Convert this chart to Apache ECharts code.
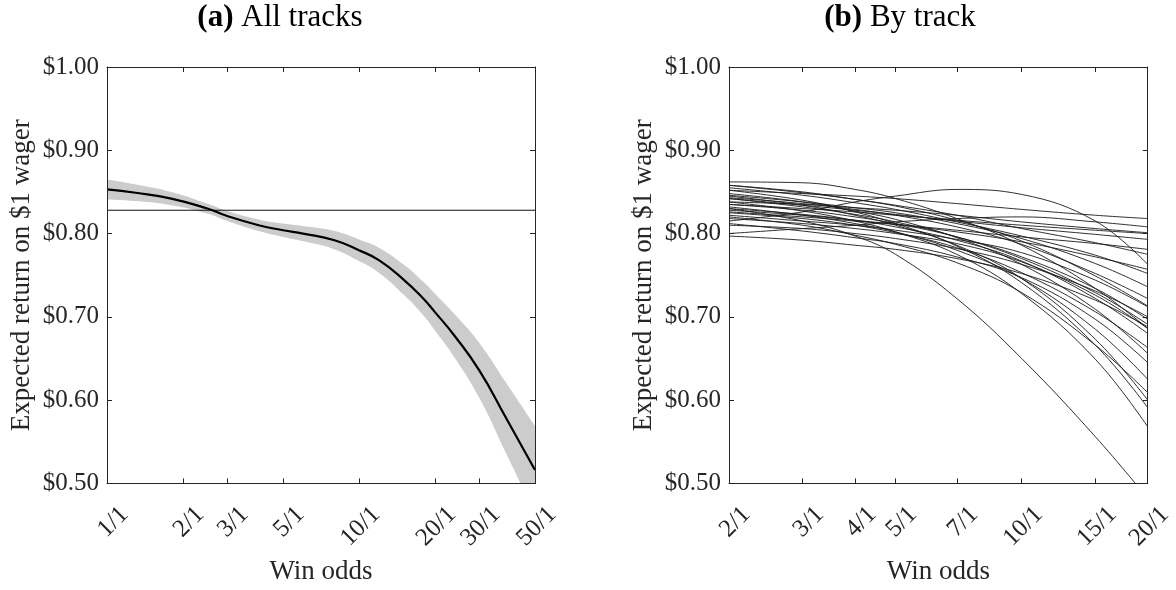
<!DOCTYPE html>
<html><head><meta charset="utf-8">
<script src="https://cdn.jsdelivr.net/npm/echarts@6/dist/echarts.min.js"></script>
<style>html,body{margin:0;padding:0;background:#fff}#c{width:1176px;height:590px}</style>
</head><body><div id="c"></div>
<script>
// ---------- data ----------
// Panel (a): all tracks
const oddsA  = [1, 1.3, 1.8, 2.5, 3, 4, 5, 6, 8, 10, 12, 15, 18, 20, 24, 30, 38, 50];
const meanA  = [0.853, 0.849, 0.842, 0.830, 0.821, 0.810, 0.804, 0.800, 0.792, 0.780, 0.768, 0.745, 0.722, 0.706, 0.677, 0.636, 0.581, 0.516];
const lowerA = [0.841, 0.839, 0.834, 0.824, 0.815, 0.803, 0.796, 0.791, 0.781, 0.767, 0.753, 0.727, 0.702, 0.684, 0.651, 0.603, 0.539, 0.463];
const upperA = [0.865, 0.859, 0.850, 0.836, 0.827, 0.817, 0.812, 0.809, 0.803, 0.793, 0.783, 0.763, 0.742, 0.728, 0.703, 0.669, 0.623, 0.569];
const overallReturn = 0.828;
const ticksA = [1, 2, 3, 5, 10, 20, 30, 50];

// Panel (b): by track
const oddsB  = [2, 3, 4, 5, 7, 10, 15, 20];
const ticksB = [2, 3, 4, 5, 7, 10, 15, 20];
const track01 = [0.852, 0.848, 0.845, 0.842, 0.836, 0.829, 0.822, 0.818];
const track02 = [0.800, 0.806, 0.810, 0.814, 0.818, 0.820, 0.814, 0.808];
const track03 = [0.835, 0.830, 0.826, 0.822, 0.816, 0.810, 0.804, 0.800];
const track04 = [0.842, 0.834, 0.828, 0.823, 0.815, 0.807, 0.799, 0.793];
const track05 = [0.826, 0.820, 0.815, 0.811, 0.804, 0.796, 0.788, 0.781];
const track06 = [0.815, 0.826, 0.838, 0.845, 0.853, 0.847, 0.815, 0.763];
const track07 = [0.828, 0.822, 0.816, 0.811, 0.802, 0.790, 0.772, 0.757];
const track08 = [0.846, 0.838, 0.831, 0.825, 0.812, 0.794, 0.764, 0.736];
const track09 = [0.858, 0.850, 0.841, 0.833, 0.816, 0.791, 0.749, 0.713];
const track10 = [0.822, 0.815, 0.810, 0.804, 0.793, 0.777, 0.744, 0.712];
const track11 = [0.835, 0.828, 0.820, 0.812, 0.796, 0.772, 0.734, 0.697];
const track12 = [0.842, 0.832, 0.823, 0.814, 0.796, 0.770, 0.729, 0.691];
const track13 = [0.818, 0.812, 0.806, 0.800, 0.788, 0.766, 0.726, 0.686];
const track14 = [0.862, 0.861, 0.853, 0.842, 0.818, 0.786, 0.734, 0.686];
const track15 = [0.825, 0.818, 0.810, 0.801, 0.783, 0.753, 0.706, 0.663];
const track16 = [0.848, 0.838, 0.827, 0.817, 0.795, 0.763, 0.709, 0.656];
const track17 = [0.832, 0.822, 0.812, 0.802, 0.780, 0.746, 0.685, 0.625];
const track18 = [0.820, 0.810, 0.798, 0.787, 0.765, 0.729, 0.666, 0.609];
const track19 = [0.852, 0.840, 0.826, 0.812, 0.785, 0.741, 0.666, 0.591];
const track20 = [0.838, 0.827, 0.815, 0.802, 0.775, 0.728, 0.649, 0.568];
const track21 = [0.830, 0.815, 0.797, 0.775, 0.722, 0.650, 0.556, 0.482];
const track22 = [0.810, 0.806, 0.800, 0.794, 0.782, 0.763, 0.731, 0.700];
const track23 = [0.855, 0.846, 0.837, 0.829, 0.814, 0.797, 0.774, 0.752];
const track24 = [0.843, 0.836, 0.829, 0.822, 0.808, 0.787, 0.752, 0.722];
const track25 = [0.830, 0.823, 0.816, 0.808, 0.792, 0.767, 0.722, 0.680];
const track26 = [0.812, 0.803, 0.795, 0.788, 0.772, 0.747, 0.697, 0.645];
const track27 = [0.845, 0.834, 0.822, 0.810, 0.786, 0.746, 0.673, 0.600];
const track28 = [0.797, 0.792, 0.786, 0.781, 0.770, 0.752, 0.720, 0.688];
const track29 = [0.858, 0.849, 0.841, 0.834, 0.822, 0.806, 0.789, 0.775];
const track30 = [0.838, 0.835, 0.831, 0.828, 0.822, 0.814, 0.806, 0.801];

const yMin = 0.5, yMax = 1.0, yStep = 0.1;

// ---------- chart ----------
const tracks = [track01, track02, track03, track04, track05, track06, track07, track08, track09, track10,
  track11, track12, track13, track14, track15, track16, track17, track18, track19, track20,
  track21, track22, track23, track24, track25, track26, track27, track28, track29, track30];

const FONT = '"Liberation Serif", "DejaVu Serif", serif';
const AX = '#262626';
const TICK_FS = 25, NAME_FS = 27, TITLE_FS = 31;

const pts = (xs, ys) => xs.map((x, i) => [Math.log(x), ys[i]]);

function xAxesFor(gridIndex, ticks) {
  const tv = ticks.map(Math.log);
  const base = {
    type: 'value', gridIndex, min: tv[0], max: tv[tv.length - 1], z: 10,
    splitLine: { show: false },
    axisLine: { show: true, onZero: false, lineStyle: { color: AX, width: 1 } },
    axisTick: { show: true, inside: true, length: 5, customValues: tv, lineStyle: { color: AX, width: 1 } }
  };
  return [
    Object.assign({}, base, {
      position: 'bottom', name: 'Win odds', nameLocation: 'middle', nameGap: 60,
      nameTextStyle: { fontFamily: FONT, fontSize: NAME_FS, color: AX },
      axisLabel: {
        show: true, rotate: 45, customValues: tv, margin: 10,
        verticalAlign: 'top', padding: [12, 0, 0, 0],
        fontFamily: FONT, fontSize: TICK_FS, color: AX,
        formatter: v => Math.round(Math.exp(v)) + '/1'
      }
    }),
    Object.assign({}, base, { position: 'top', axisLabel: { show: false } })
  ];
}
function yAxesFor(gridIndex) {
  const base = {
    type: 'value', gridIndex, min: yMin, max: yMax, interval: yStep, z: 10,
    splitLine: { show: false },
    axisLine: { show: true, onZero: false, lineStyle: { color: AX, width: 1 } },
    axisTick: { show: true, inside: true, length: 5, lineStyle: { color: AX, width: 1 } }
  };
  return [
    Object.assign({}, base, {
      position: 'left', name: 'Expected return on $1 wager', nameLocation: 'middle', nameGap: 72,
      nameTextStyle: { fontFamily: FONT, fontSize: NAME_FS, color: AX },
      axisLabel: { show: true, margin: 8, fontFamily: FONT, fontSize: TICK_FS, color: AX,
        formatter: v => '$' + v.toFixed(2) }
    }),
    Object.assign({}, base, { position: 'right', axisLabel: { show: false } })
  ];
}

const series = [
  // confidence band: grey area under the upper bound, then white area under the lower bound
  { type: 'line', xAxisIndex: 0, yAxisIndex: 0, data: pts(oddsA, upperA), smooth: true,
    symbol: 'none', lineStyle: { width: 0, opacity: 0 }, areaStyle: { color: '#cccccc', opacity: 1, origin: 'start' },
    silent: true, z: 1 },
  { type: 'line', xAxisIndex: 0, yAxisIndex: 0, data: pts(oddsA, lowerA), smooth: true,
    symbol: 'none', lineStyle: { width: 0, opacity: 0 }, areaStyle: { color: '#ffffff', opacity: 1, origin: 'start' },
    silent: true, z: 1 },
  { type: 'line', xAxisIndex: 0, yAxisIndex: 0,
    data: [[Math.log(ticksA[0]), overallReturn], [Math.log(ticksA[ticksA.length - 1]), overallReturn]],
    symbol: 'none', lineStyle: { color: '#111', width: 1 }, z: 3 },
  { type: 'line', xAxisIndex: 0, yAxisIndex: 0, data: pts(oddsA, meanA), smooth: true,
    symbol: 'none', lineStyle: { color: '#000', width: 2.2 }, z: 4 }
];
tracks.forEach(t => series.push({
  type: 'line', xAxisIndex: 2, yAxisIndex: 2, data: pts(oddsB, t), smooth: 0.4,
  symbol: 'none', lineStyle: { color: '#1a1a1a', width: 0.9 }, z: 2
}));

const chart = echarts.init(document.getElementById('c'), null, { renderer: 'canvas' });
chart.setOption({
  animation: false,
  backgroundColor: '#fff',
  title: [
    { text: '{b|(a)} All tracks', left: 280, top: 2, padding: 0, textAlign: 'center',
      textStyle: { fontFamily: FONT, fontSize: TITLE_FS, fontWeight: 'normal', color: '#000',
        rich: { b: { fontFamily: FONT, fontSize: TITLE_FS, fontWeight: 'bold', color: '#000' } } } },
    { text: '{b|(b)} By track', left: 900, top: 2, padding: 0, textAlign: 'center',
      textStyle: { fontFamily: FONT, fontSize: TITLE_FS, fontWeight: 'normal', color: '#000',
        rich: { b: { fontFamily: FONT, fontSize: TITLE_FS, fontWeight: 'bold', color: '#000' } } } }
  ],
  grid: [
    { left: 107, top: 67, width: 428, height: 427 },
    { left: 729, top: 67, width: 429, height: 427 }
  ],
  xAxis: xAxesFor(0, ticksA).concat(xAxesFor(1, ticksB)),
  yAxis: yAxesFor(0).concat(yAxesFor(1)),
  series
});
</script></body></html>
